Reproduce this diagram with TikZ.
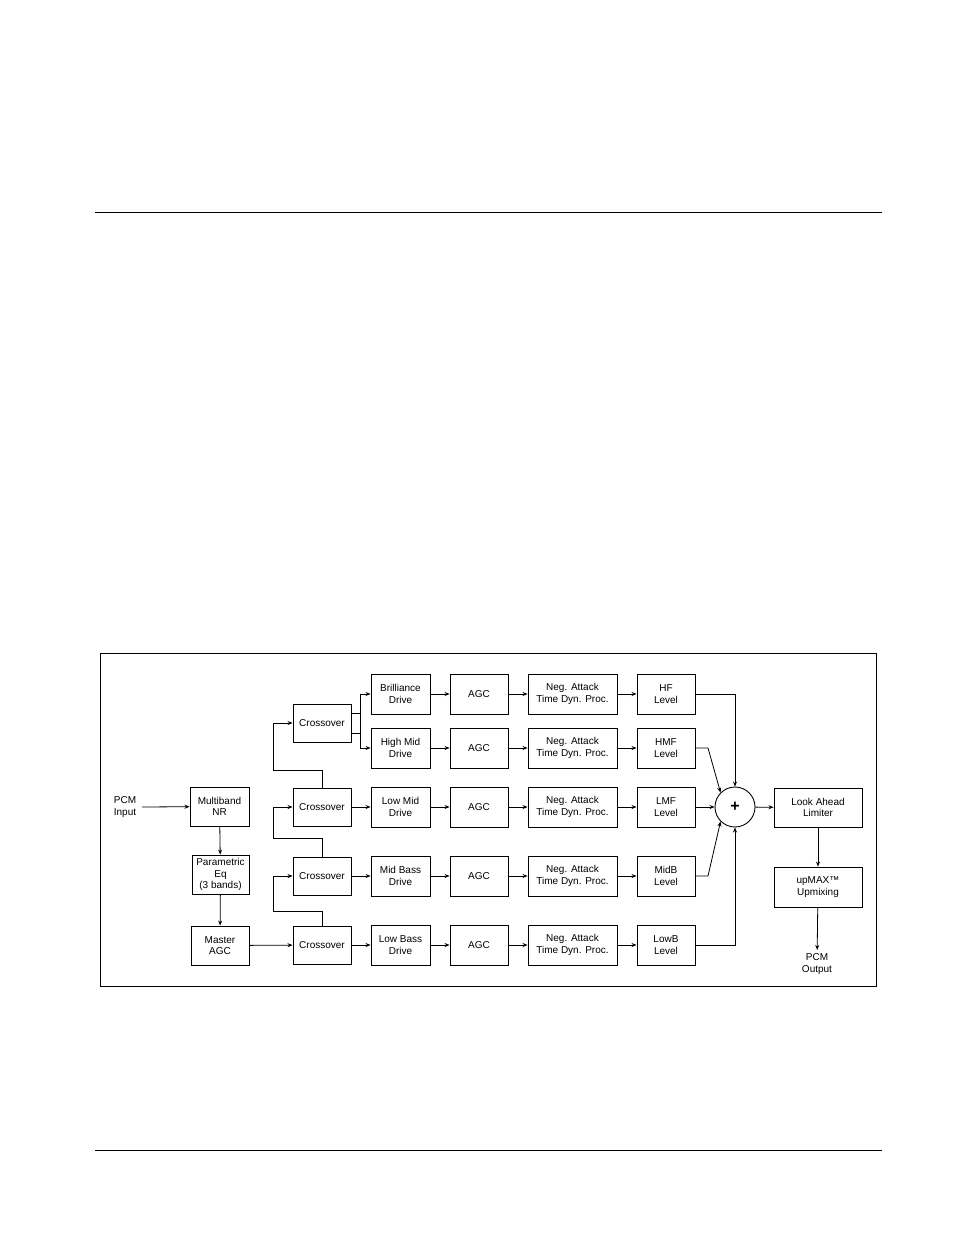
\documentclass[tikz,border=0pt]{standalone}
\usepackage{fontspec}
\setmainfont{Liberation Sans}
\usetikzlibrary{arrows.meta}
\begin{document}
\begin{tikzpicture}[x=1pt,y=-1pt,
  blk/.style={draw,line width=0.9pt,inner sep=0pt,align=center,font=\fontsize{10}{11.5}\selectfont},
  lbl/.style={align=center,font=\fontsize{10}{11.5}\selectfont},
  >={Stealth[length=5pt,width=4pt]}, line width=0.8pt]
\useasboundingbox (0,0) rectangle (954,1235);
\draw[line width=0.6pt] (95,212) -- (882,212);
\draw[line width=0.6pt] (95,1150) -- (882,1150);
\draw[line width=1pt] (100,653) rectangle (876,986);
\newcommand{\bx}[6]{\node[blk,minimum width=#4,minimum height=#5] (#1) at (#2,#3) {#6};}
\bx{nr}{219.5}{806.5}{59pt}{39pt}{Multiband\\NR}
\bx{peq}{220.5}{874.5}{57pt}{39pt}{Parametric\\Eq\\(3 bands)}
\bx{magc}{220}{945.5}{58pt}{39pt}{Master\\AGC}
\node[lbl] (pin) at (125,807) {PCM\\Input};
\foreach \n/\y in {1/723,2/807,3/876,4/945}{\bx{x\n}{322}{\y}{58pt}{38pt}{Crossover}}
\foreach \n/\y/\d/\l/\lv in {1/694/Brilliance/HF/HF,2/748/High Mid/HMF/HMF,3/807/Low Mid/LMF/LMF,4/876/Mid Bass/MidB/MidB,5/945/Low Bass/LowB/LowB}{
  \bx{d\n}{400.5}{\y}{59pt}{40pt}{\d\\Drive}
  \bx{a\n}{479}{\y}{58pt}{40pt}{AGC}
  \bx{n\n}{572.5}{\y}{89pt}{40pt}{Neg. Attack\\Time Dyn. Proc.}
  \bx{l\n}{666}{\y}{58pt}{40pt}{\lv\\Level}
  \draw[->] (d\n) -- (a\n); \draw[->] (a\n) -- (n\n); \draw[->] (n\n) -- (l\n);
}
\node[draw,circle,line width=0.9pt,minimum size=40pt,inner sep=0pt,font=\fontsize{16}{16}\bfseries] (sum) at (735,807) {+};
\bx{la}{818}{807.5}{88pt}{39pt}{Look Ahead\\Limiter}
\bx{up}{818}{887}{88pt}{40pt}{upMAX™\\Upmixing}
\node[lbl] (pout) at (817,964) {PCM\\Output};
\coordinate (pinr) at (142,807);
\draw[->] (pinr) -- (nr);
\draw[->] (nr) -- (peq);
\draw[->] (peq) -- (magc);
\draw[->] (magc) -- (x4);
\foreach \s/\t/\yy in {x2/x1/770,x3/x2/838,x4/x3/911}{
  \draw[->] (\s.north) |- (273,\yy) |- (\t.west);
}
\draw[->] ([yshift=-10pt]x1.east) -- ++(9,0) |- (d1.west);
\draw[->] ([yshift=10pt]x1.east) -- ++(9,0) |- (d2.west);
\draw[->] (x2) -- (d3); \draw[->] (x3) -- (d4); \draw[->] (x4) -- (d5);
\draw[->] (l1.east) -| (sum.north);
\draw[->] (l5.east) -| (sum.south);
\draw[->] (l3) -- (sum);
\draw[->] (l2.east) -- (708,748) -- (sum.north west);
\draw[->] (l4.east) -- (708,876) -- (sum.south west);
\draw[->] (sum) -- (la);
\draw[->] (la) -- (up);
\draw[->] (up) -- (pout);
\end{tikzpicture}
\end{document}
